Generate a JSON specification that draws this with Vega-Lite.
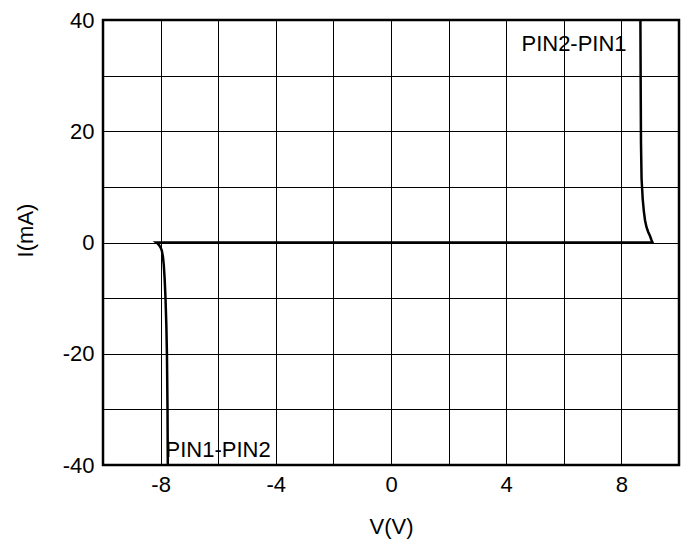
{
  "$schema": "https://vega.github.io/schema/vega-lite/v6.json",
  "width": 576,
  "height": 445,
  "padding": {"left": 103, "top": 20, "right": 9, "bottom": 78},
  "autosize": {"type": "none"},
  "background": "white",
  "config": {
    "view": {"stroke": "black", "strokeWidth": 2.5},
    "font": "Liberation Sans",
    "axis": {
      "grid": true,
      "gridColor": "black",
      "gridOpacity": 1,
      "gridWidth": 1,
      "domain": false,
      "ticks": false,
      "labelFont": "Liberation Sans",
      "labelFontSize": 22,
      "labelColor": "black",
      "titleFont": "Liberation Sans",
      "titleFontSize": 22,
      "titleFontWeight": "normal",
      "titleColor": "black"
    }
  },
  "datasets": {
    "curve": [
      {"order": 1, "v": -7.75, "i": -40},
      {"order": 2, "v": -7.76, "i": -30},
      {"order": 3, "v": -7.78, "i": -20},
      {"order": 4, "v": -7.8, "i": -15},
      {"order": 5, "v": -7.83, "i": -10},
      {"order": 6, "v": -7.86, "i": -6.5},
      {"order": 7, "v": -7.89, "i": -4},
      {"order": 8, "v": -7.92, "i": -2.5},
      {"order": 9, "v": -7.96, "i": -1.4},
      {"order": 10, "v": -8.0, "i": -0.9},
      {"order": 11, "v": -8.05, "i": -0.5},
      {"order": 12, "v": -8.1, "i": -0.2},
      {"order": 13, "v": -8.15, "i": 0},
      {"order": 14, "v": 0, "i": 0},
      {"order": 15, "v": 9.08, "i": 0},
      {"order": 16, "v": 9.04, "i": 0.5},
      {"order": 17, "v": 8.99, "i": 1.2},
      {"order": 18, "v": 8.93, "i": 1.9},
      {"order": 19, "v": 8.87, "i": 2.8},
      {"order": 20, "v": 8.82, "i": 4.0},
      {"order": 21, "v": 8.78, "i": 5.6},
      {"order": 22, "v": 8.74, "i": 7.8},
      {"order": 23, "v": 8.7, "i": 11.5},
      {"order": 24, "v": 8.68, "i": 18},
      {"order": 25, "v": 8.67, "i": 28},
      {"order": 26, "v": 8.66, "i": 40}
    ],
    "labels": [
      {"v": 4.53, "i": 34.4, "text": "PIN2-PIN1"},
      {"v": -7.83, "i": -38.5, "text": "PIN1-PIN2"}
    ]
  },
  "layer": [
    {
      "data": {"name": "curve"},
      "mark": {"type": "line", "color": "black", "strokeWidth": 2.5, "clip": true},
      "encoding": {
        "x": {
          "field": "v", "type": "quantitative", "title": "V(V)",
          "scale": {"domain": [-10, 10], "nice": false, "zero": false},
          "axis": {
            "values": [-10, -8, -6, -4, -2, 0, 2, 4, 6, 8, 10],
            "labelExpr": "(datum.value % 4 == 0 && abs(datum.value) < 10) ? '' + datum.value : ''",
            "labelPadding": 9,
            "titlePadding": 21
          }
        },
        "y": {
          "field": "i", "type": "quantitative", "title": "I(mA)",
          "scale": {"domain": [-40, 40], "nice": false, "zero": false},
          "axis": {
            "values": [-40, -30, -20, -10, 0, 10, 20, 30, 40],
            "labelExpr": "(datum.value % 20 == 0) ? '' + datum.value : ''",
            "labelPadding": 9,
            "titlePadding": 25,
            "titleY": 210
          }
        },
        "order": {"field": "order", "type": "quantitative"}
      }
    },
    {
      "data": {"name": "labels"},
      "mark": {"type": "text", "align": "left", "baseline": "alphabetic", "fontSize": 22, "color": "black", "font": "Liberation Sans"},
      "encoding": {
        "x": {"field": "v", "type": "quantitative"},
        "y": {"field": "i", "type": "quantitative"},
        "text": {"field": "text"}
      }
    }
  ]
}
